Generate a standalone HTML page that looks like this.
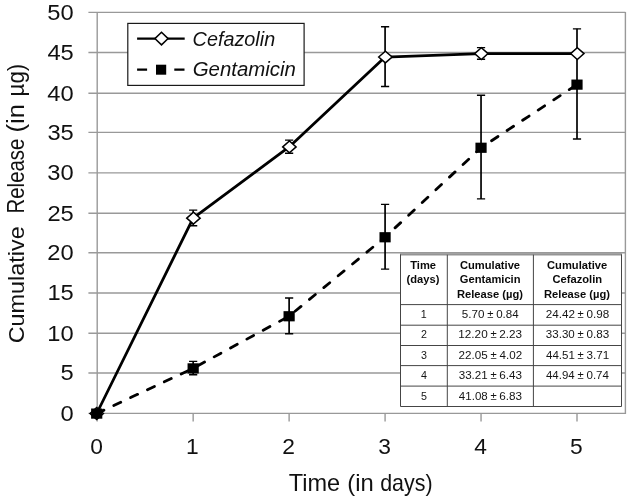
<!DOCTYPE html>
<html lang="en"><head><meta charset="utf-8"><title>Cumulative Release</title>
<style>
html,body{margin:0;padding:0;background:#fff;}
body{width:633px;height:499px;overflow:hidden;}
svg{display:block;font-family:"Liberation Sans",sans-serif;}
text{white-space:pre;}
</style></head><body>
<svg width="633" height="499" viewBox="0 0 633 499">
<rect x="0" y="0" width="633" height="499" fill="#fff"/>
<line x1="88.40" y1="12.40" x2="625.40" y2="12.40" stroke="#999999" stroke-width="1.4"/>
<line x1="88.40" y1="52.50" x2="625.40" y2="52.50" stroke="#999999" stroke-width="1.4"/>
<line x1="88.40" y1="93.20" x2="625.40" y2="93.20" stroke="#999999" stroke-width="1.4"/>
<line x1="88.40" y1="132.40" x2="625.40" y2="132.40" stroke="#999999" stroke-width="1.4"/>
<line x1="88.40" y1="172.90" x2="625.40" y2="172.90" stroke="#999999" stroke-width="1.4"/>
<line x1="88.40" y1="213.20" x2="625.40" y2="213.20" stroke="#999999" stroke-width="1.4"/>
<line x1="88.40" y1="252.70" x2="625.40" y2="252.70" stroke="#999999" stroke-width="1.4"/>
<line x1="88.40" y1="293.00" x2="625.40" y2="293.00" stroke="#999999" stroke-width="1.4"/>
<line x1="88.40" y1="333.30" x2="625.40" y2="333.30" stroke="#999999" stroke-width="1.4"/>
<line x1="88.40" y1="373.00" x2="625.40" y2="373.00" stroke="#999999" stroke-width="1.4"/>
<line x1="88.40" y1="413.40" x2="625.40" y2="413.40" stroke="#999999" stroke-width="1.4"/>
<line x1="97.20" y1="11.90" x2="97.20" y2="421.40" stroke="#999999" stroke-width="1.4"/>
<line x1="625.40" y1="11.90" x2="625.40" y2="413.90" stroke="#999999" stroke-width="1.4"/>
<line x1="193.16" y1="413.40" x2="193.16" y2="421.60" stroke="#999999" stroke-width="1.4"/>
<line x1="289.12" y1="413.40" x2="289.12" y2="421.60" stroke="#999999" stroke-width="1.4"/>
<line x1="385.08" y1="413.40" x2="385.08" y2="421.60" stroke="#999999" stroke-width="1.4"/>
<line x1="481.04" y1="413.40" x2="481.04" y2="421.60" stroke="#999999" stroke-width="1.4"/>
<line x1="577.00" y1="413.40" x2="577.00" y2="421.60" stroke="#999999" stroke-width="1.4"/>
<text transform="translate(47.37,19.80) scale(1.0400,1.0000)" font-size="22.8" fill="#111">50</text>
<text transform="translate(47.43,59.90) scale(1.0400,1.0000)" font-size="22.8" fill="#111">45</text>
<text transform="translate(47.37,100.60) scale(1.0400,1.0000)" font-size="22.8" fill="#111">40</text>
<text transform="translate(47.43,139.80) scale(1.0400,1.0000)" font-size="22.8" fill="#111">35</text>
<text transform="translate(47.37,180.30) scale(1.0400,1.0000)" font-size="22.8" fill="#111">30</text>
<text transform="translate(47.43,220.60) scale(1.0400,1.0000)" font-size="22.8" fill="#111">25</text>
<text transform="translate(47.37,260.10) scale(1.0400,1.0000)" font-size="22.8" fill="#111">20</text>
<text transform="translate(47.43,300.40) scale(1.0400,1.0000)" font-size="22.8" fill="#111">15</text>
<text transform="translate(47.37,340.70) scale(1.0400,1.0000)" font-size="22.8" fill="#111">10</text>
<text transform="translate(60.59,380.40) scale(1.0400,1.0000)" font-size="22.8" fill="#111">5</text>
<text transform="translate(60.53,420.80) scale(1.0400,1.0000)" font-size="22.8" fill="#111">0</text>
<text transform="translate(90.24,453.70) scale(1.0000,1.0000)" font-size="22.8" fill="#111">0</text>
<text transform="translate(185.92,453.70) scale(1.0000,1.0000)" font-size="22.8" fill="#111">1</text>
<text transform="translate(282.19,453.70) scale(1.0000,1.0000)" font-size="22.8" fill="#111">2</text>
<text transform="translate(378.21,453.70) scale(1.0000,1.0000)" font-size="22.8" fill="#111">3</text>
<text transform="translate(474.17,453.70) scale(1.0000,1.0000)" font-size="22.8" fill="#111">4</text>
<text transform="translate(570.07,453.70) scale(1.0000,1.0000)" font-size="22.8" fill="#111">5</text>
<text transform="translate(288.77,490.80) scale(1.0234,1.0000)" font-size="23.0" fill="#111">Time</text>
<text transform="translate(347.31,490.80) scale(1.0355,1.0000)" font-size="23.0" fill="#111">(in</text>
<text transform="translate(380.19,490.80) scale(0.9309,1.0000)" font-size="23.0" fill="#111">days)</text>
<text transform="translate(24.00,342.20) rotate(-90) translate(-1.17,0) scale(1.0188,1.0000)" font-size="23.0" fill="#111">Cumulative</text>
<text transform="translate(24.00,211.80) rotate(-90) translate(-1.68,0) scale(0.8874,1.0000)" font-size="23.0" fill="#111">Release</text>
<text transform="translate(24.00,130.90) rotate(-90) translate(-1.60,0) scale(1.1152,1.0000)" font-size="23.0" fill="#111">(in</text>
<text transform="translate(24.00,94.90) rotate(-90) translate(-1.51,0) scale(0.9705,1.0000)" font-size="23.0" fill="#111">µg)</text>
<path d="M193.16 361.44V374.72" stroke="#000" stroke-width="1.7" fill="none"/>
<path d="M189.06 361.44h8.2M189.06 374.72h8.2" stroke="#000" stroke-width="1.35" fill="none"/>
<path d="M289.12 297.98V333.74" stroke="#000" stroke-width="1.7" fill="none"/>
<path d="M285.02 297.98h8.2M285.02 333.74h8.2" stroke="#000" stroke-width="1.35" fill="none"/>
<path d="M385.08 204.40V269.10" stroke="#000" stroke-width="1.7" fill="none"/>
<path d="M380.98 204.40h8.2M380.98 269.10h8.2" stroke="#000" stroke-width="1.35" fill="none"/>
<path d="M481.04 95.25V198.92" stroke="#000" stroke-width="1.7" fill="none"/>
<path d="M476.94 95.25h8.2M476.94 198.92h8.2" stroke="#000" stroke-width="1.35" fill="none"/>
<path d="M577.00 28.87V139.01" stroke="#000" stroke-width="1.7" fill="none"/>
<path d="M572.90 28.87h8.2M572.90 139.01h8.2" stroke="#000" stroke-width="1.35" fill="none"/>
<path d="M193.16 210.16V225.71" stroke="#000" stroke-width="1.7" fill="none"/>
<path d="M189.06 210.16h8.2M189.06 225.71h8.2" stroke="#000" stroke-width="1.35" fill="none"/>
<path d="M289.12 140.17V153.29" stroke="#000" stroke-width="1.7" fill="none"/>
<path d="M285.02 140.17h8.2M285.02 153.29h8.2" stroke="#000" stroke-width="1.35" fill="none"/>
<path d="M385.08 26.79V86.48" stroke="#000" stroke-width="1.7" fill="none"/>
<path d="M380.98 26.79h8.2M380.98 86.48h8.2" stroke="#000" stroke-width="1.35" fill="none"/>
<path d="M481.04 47.55V59.22" stroke="#000" stroke-width="1.7" fill="none"/>
<path d="M476.94 47.55h8.2M476.94 59.22h8.2" stroke="#000" stroke-width="1.35" fill="none"/>
<polyline points="96.70,413.50 193.16,218.15 289.12,146.93 385.08,57.03 481.04,53.58 577.00,53.58" fill="none" stroke="#000" stroke-width="2.8" stroke-linejoin="round"/>
<path d="M90.00 413.50L96.70 407.60L103.40 413.50L96.70 419.40Z" fill="#fff" stroke="#000" stroke-width="1.5" stroke-linejoin="miter"/>
<path d="M186.76 218.15L193.46 212.25L200.16 218.15L193.46 224.05Z" fill="#fff" stroke="#000" stroke-width="1.5" stroke-linejoin="miter"/>
<path d="M282.72 146.93L289.42 141.03L296.12 146.93L289.42 152.83Z" fill="#fff" stroke="#000" stroke-width="1.5" stroke-linejoin="miter"/>
<path d="M378.68 57.03L385.38 51.13L392.08 57.03L385.38 62.93Z" fill="#fff" stroke="#000" stroke-width="1.5" stroke-linejoin="miter"/>
<path d="M474.64 53.58L481.34 47.68L488.04 53.58L481.34 59.48Z" fill="#fff" stroke="#000" stroke-width="1.5" stroke-linejoin="miter"/>
<path d="M570.60 53.58L577.30 47.68L584.00 53.58L577.30 59.48Z" fill="#fff" stroke="#000" stroke-width="1.5" stroke-linejoin="miter"/>
<polyline points="96.70,413.50 193.16,368.29 289.12,316.16 385.08,237.16 481.04,147.66 577.00,84.54" fill="none" stroke="#000" stroke-width="2.8" stroke-dasharray="7.7 10.9" stroke-dashoffset="-0.25" stroke-linecap="round" stroke-linejoin="round"/>
<rect x="91.10" y="408.50" width="11.2" height="10.2" fill="#000"/>
<rect x="187.56" y="363.29" width="11.2" height="10.2" fill="#000"/>
<rect x="283.52" y="311.16" width="11.2" height="10.2" fill="#000"/>
<rect x="379.48" y="232.16" width="11.2" height="10.2" fill="#000"/>
<rect x="475.44" y="142.66" width="11.2" height="10.2" fill="#000"/>
<rect x="571.40" y="79.54" width="11.2" height="10.2" fill="#000"/>
<rect x="127.8" y="23.4" width="176.3" height="62.0" fill="#fff" stroke="#1a1a1a" stroke-width="1.2"/>
<line x1="137.1" y1="38.6" x2="184.7" y2="38.6" stroke="#000" stroke-width="2.3"/>
<path d="M154.90 38.60L161.50 32.30L168.10 38.60L161.50 44.90Z" fill="#fff" stroke="#000" stroke-width="1.5" stroke-linejoin="miter"/>
<line x1="137.1" y1="69.6" x2="184.5" y2="69.6" stroke="#000" stroke-width="2.3" stroke-dasharray="10 27.2 10.4 20"/>
<rect x="156.00" y="64.70" width="10.2" height="10" fill="#000"/>
<text transform="translate(192.61,45.50) scale(1.0267,1.0000)" font-size="19.3" font-style="italic" fill="#111">Cefazolin</text>
<text transform="translate(192.68,75.50) scale(1.0587,1.0000)" font-size="19.3" font-style="italic" fill="#111">Gentamicin</text>
<rect x="400.5" y="254.7" width="221.00" height="151.80" fill="#fff"/>
<line x1="400.0" y1="254.29999999999998" x2="622.0" y2="254.29999999999998" stroke="#959595" stroke-width="2.2"/>
<path d="M400.5 254.39999999999998V406.5H621.5V254.39999999999998" fill="none" stroke="#454545" stroke-width="1"/>
<line x1="400.5" y1="304.6" x2="621.5" y2="304.6" stroke="#454545" stroke-width="1"/>
<line x1="400.5" y1="325.2" x2="621.5" y2="325.2" stroke="#454545" stroke-width="1"/>
<line x1="400.5" y1="345.5" x2="621.5" y2="345.5" stroke="#454545" stroke-width="1"/>
<line x1="400.5" y1="365.6" x2="621.5" y2="365.6" stroke="#454545" stroke-width="1"/>
<line x1="400.5" y1="386.1" x2="621.5" y2="386.1" stroke="#454545" stroke-width="1"/>
<line x1="447.3" y1="254.7" x2="447.3" y2="406.5" stroke="#454545" stroke-width="1"/>
<line x1="533.4" y1="254.7" x2="533.4" y2="406.5" stroke="#454545" stroke-width="1"/>
<text transform="translate(410.19,268.80) scale(1.0150,1.0000)" font-size="11.0" font-weight="bold" fill="#0a0a0a">Time</text>
<text transform="translate(406.56,283.30) scale(1.0150,1.0000)" font-size="11.0" font-weight="bold" fill="#0a0a0a">(days)</text>
<text transform="translate(459.92,268.80) scale(1.0150,1.0000)" font-size="11.0" font-weight="bold" fill="#0a0a0a">Cumulative</text>
<text transform="translate(459.76,283.30) scale(1.0150,1.0000)" font-size="11.0" font-weight="bold" fill="#0a0a0a">Gentamicin</text>
<text transform="translate(456.95,297.80) scale(1.0150,1.0000)" font-size="11.0" font-weight="bold" fill="#0a0a0a">Release (µg)</text>
<text transform="translate(547.02,268.80) scale(1.0150,1.0000)" font-size="11.0" font-weight="bold" fill="#0a0a0a">Cumulative</text>
<text transform="translate(552.45,283.30) scale(1.0150,1.0000)" font-size="11.0" font-weight="bold" fill="#0a0a0a">Cefazolin</text>
<text transform="translate(544.05,297.80) scale(1.0150,1.0000)" font-size="11.0" font-weight="bold" fill="#0a0a0a">Release (µg)</text>
<text transform="translate(420.78,317.70) scale(1.0300,1.0000)" font-size="10.4" fill="#141414">1</text>
<text transform="translate(461.86,317.70) scale(1.1193,1.0000)" font-size="10.4" fill="#141414">5.70</text>
<text transform="translate(487.25,317.70) scale(1.0854,1.0000)" font-size="10.4" fill="#141414">±</text>
<text transform="translate(496.17,317.70) scale(1.1134,1.0000)" font-size="10.4" fill="#141414">0.84</text>
<text transform="translate(545.65,317.70) scale(1.1258,1.0000)" font-size="10.4" fill="#141414">24.42</text>
<text transform="translate(577.54,317.70) scale(1.0854,1.0000)" font-size="10.4" fill="#141414">±</text>
<text transform="translate(586.46,317.70) scale(1.1223,1.0000)" font-size="10.4" fill="#141414">0.98</text>
<text transform="translate(420.93,338.10) scale(1.0300,1.0000)" font-size="10.4" fill="#141414">2</text>
<text transform="translate(458.25,338.10) scale(1.1316,1.0000)" font-size="10.4" fill="#141414">12.20</text>
<text transform="translate(490.44,338.10) scale(1.0854,1.0000)" font-size="10.4" fill="#141414">±</text>
<text transform="translate(499.24,338.10) scale(1.1284,1.0000)" font-size="10.4" fill="#141414">2.23</text>
<text transform="translate(545.80,338.10) scale(1.1142,1.0000)" font-size="10.4" fill="#141414">33.30</text>
<text transform="translate(577.54,338.10) scale(1.0854,1.0000)" font-size="10.4" fill="#141414">±</text>
<text transform="translate(586.46,338.10) scale(1.1223,1.0000)" font-size="10.4" fill="#141414">0.83</text>
<text transform="translate(420.95,358.70) scale(1.0300,1.0000)" font-size="10.4" fill="#141414">3</text>
<text transform="translate(458.55,358.70) scale(1.1211,1.0000)" font-size="10.4" fill="#141414">22.05</text>
<text transform="translate(490.44,358.70) scale(1.0854,1.0000)" font-size="10.4" fill="#141414">±</text>
<text transform="translate(499.57,358.70) scale(1.1164,1.0000)" font-size="10.4" fill="#141414">4.02</text>
<text transform="translate(545.97,358.70) scale(1.1119,1.0000)" font-size="10.4" fill="#141414">44.51</text>
<text transform="translate(577.54,358.70) scale(1.0854,1.0000)" font-size="10.4" fill="#141414">±</text>
<text transform="translate(586.49,358.70) scale(1.1239,1.0000)" font-size="10.4" fill="#141414">3.71</text>
<text transform="translate(420.95,379.10) scale(1.0300,1.0000)" font-size="10.4" fill="#141414">4</text>
<text transform="translate(458.69,379.10) scale(1.1188,1.0000)" font-size="10.4" fill="#141414">33.21</text>
<text transform="translate(490.44,379.10) scale(1.0854,1.0000)" font-size="10.4" fill="#141414">±</text>
<text transform="translate(499.24,379.10) scale(1.1284,1.0000)" font-size="10.4" fill="#141414">6.43</text>
<text transform="translate(545.97,379.10) scale(1.1028,1.0000)" font-size="10.4" fill="#141414">44.94</text>
<text transform="translate(577.54,379.10) scale(1.0854,1.0000)" font-size="10.4" fill="#141414">±</text>
<text transform="translate(586.47,379.10) scale(1.1134,1.0000)" font-size="10.4" fill="#141414">0.74</text>
<text transform="translate(420.93,399.50) scale(1.0300,1.0000)" font-size="10.4" fill="#141414">5</text>
<text transform="translate(458.87,399.50) scale(1.1096,1.0000)" font-size="10.4" fill="#141414">41.08</text>
<text transform="translate(490.44,399.50) scale(1.0854,1.0000)" font-size="10.4" fill="#141414">±</text>
<text transform="translate(499.24,399.50) scale(1.1284,1.0000)" font-size="10.4" fill="#141414">6.83</text>
</svg>
</body></html>
